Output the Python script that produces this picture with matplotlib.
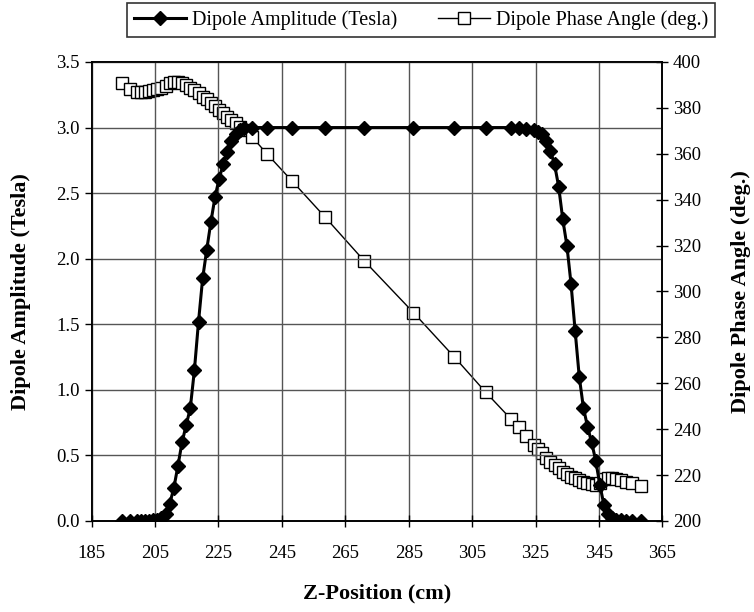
import matplotlib
matplotlib.use("Agg")
import matplotlib.pyplot as plt
from matplotlib.lines import Line2D

plt.rcParams['font.family'] = ['Liberation Serif', 'DejaVu Serif']

z_position = [194.5, 197.0, 199.3, 200.6, 201.9, 203.2, 204.4, 205.7, 207.0, 208.3,
              209.6, 210.9, 212.2, 213.5, 214.8, 216.1, 217.4, 218.7, 220.0, 221.3,
              222.6, 223.9, 225.2, 226.5, 227.8, 229.1, 230.4, 231.7, 233.0, 235.5,
              240.4, 248.1, 258.5, 271.0, 286.5, 299.3, 309.3, 317.2, 319.7, 322.1,
              324.5, 325.8, 327.1, 328.4, 329.7, 331.0, 332.3, 333.6, 334.9, 336.2,
              337.5, 338.8, 340.1, 341.4, 342.7, 344.0, 345.3, 346.6, 347.9, 349.2,
              350.5, 352.0, 353.6, 355.5, 358.2]

amplitude = [0.0, 0.0, 0.0, 0.0, 0.0, 0.0, 0.005, 0.01, 0.02, 0.05,
             0.13, 0.25, 0.42, 0.60, 0.73, 0.86, 1.15, 1.52, 1.85, 2.07,
             2.28, 2.47, 2.61, 2.72, 2.81, 2.90, 2.95, 2.98, 3.0, 3.0,
             3.0, 3.0, 3.0, 3.0, 3.0, 3.0, 3.0, 3.0, 3.0, 2.99,
             2.98, 2.97, 2.95, 2.90, 2.82, 2.72, 2.55, 2.30, 2.10, 1.81,
             1.45, 1.10, 0.865, 0.72, 0.60, 0.46, 0.275, 0.12, 0.05, 0.02,
             0.01, 0.005, 0.0, 0.0, 0.0]

phase = [390.7, 388.2, 386.8, 386.8, 387.1, 387.4, 387.8, 388.2, 388.8, 389.7,
         390.7, 391.2, 391.2, 390.7, 390.0, 388.8, 387.8, 386.4, 384.9, 383.7,
         382.3, 380.8, 379.1, 377.6, 376.2, 374.7, 373.3, 371.8, 370.2, 367.5,
         359.8, 348.3, 332.6, 313.3, 290.8, 271.6, 256.1, 244.5, 240.9, 236.9,
         233.1, 231.5, 229.6, 227.6, 225.8, 224.3, 222.9, 221.5, 220.3, 219.3,
         218.6, 217.9, 217.1, 216.7, 216.1, 215.7, 216.4, 218.2, 218.6, 218.6,
         218.3, 217.9, 217.1, 216.7, 215.3]

x_ticks = [185, 205, 225, 245, 265, 285, 305, 325, 345, 365]
left_ticks = [0.0, 0.5, 1.0, 1.5, 2.0, 2.5, 3.0, 3.5]
right_ticks = [200, 220, 240, 260, 280, 300, 320, 340, 360, 380, 400]

fig = plt.figure(figsize=(7.54, 6.12), dpi=100)
ax = fig.add_axes([0.1216, 0.1487, 0.7568, 0.75])
ax2 = ax.twinx()

ax.set_xlim(185, 365)
ax.set_ylim(0, 3.5)
ax2.set_ylim(200, 400)
ax.set_xticks(x_ticks)
ax.set_yticks(left_ticks)
ax.set_yticklabels([f"{v:.1f}" for v in left_ticks])
ax2.set_yticks(right_ticks)

ax.grid(True, color='#555555', linewidth=1.0)
ax.set_axisbelow(True)

ax2.plot(z_position, phase, color='black', linewidth=1.0, marker='s',
         markersize=9, markerfacecolor='white', markeredgecolor='black',
         markeredgewidth=1.0, zorder=2)
ax.set_zorder(ax2.get_zorder() + 1)
ax.patch.set_visible(False)
ax.plot(z_position, amplitude, color='black', linewidth=2.2, marker='D',
        markersize=7.5, markerfacecolor='black', markeredgecolor='black', zorder=3)

for a in (ax, ax2):
    for s in a.spines.values():
        s.set_color('black')
        s.set_linewidth(1.2)

ax.tick_params(axis='x', direction='inout', length=8, labelsize=13.5, pad=13, width=1)
ax.tick_params(axis='y', direction='out', length=5, labelsize=13.5, width=1)
ax2.tick_params(axis='y', direction='inout', length=8, labelsize=13.5, width=1)

ax.set_xlabel('Z-Position (cm)', fontsize=16, fontweight='bold', labelpad=16)
ax.set_ylabel('Dipole Amplitude (Tesla)', fontsize=16, fontweight='bold', labelpad=18)
ax2.set_ylabel('Dipole Phase Angle (deg.)', fontsize=16, fontweight='bold',
               rotation=90, labelpad=22)

handles = [
    Line2D([0], [0], color='black', linewidth=2.2, marker='D', markersize=7.5,
           markerfacecolor='black'),
    Line2D([0], [0], color='black', linewidth=1.0, marker='s', markersize=9,
           markerfacecolor='white', markeredgecolor='black'),
]
leg = fig.legend(handles, ['Dipole Amplitude (Tesla)', 'Dipole Phase Angle (deg.)'],
                 loc='center', bbox_to_anchor=(0.5585, 0.967), ncol=2,
                 fontsize=14.5, frameon=True, fancybox=False, edgecolor='black',
                 handlelength=2.6, columnspacing=2.0, borderpad=0.35,
                 handletextpad=0.3)
leg.get_frame().set_linewidth(1.2)

fig.savefig('out.png', dpi=100)
